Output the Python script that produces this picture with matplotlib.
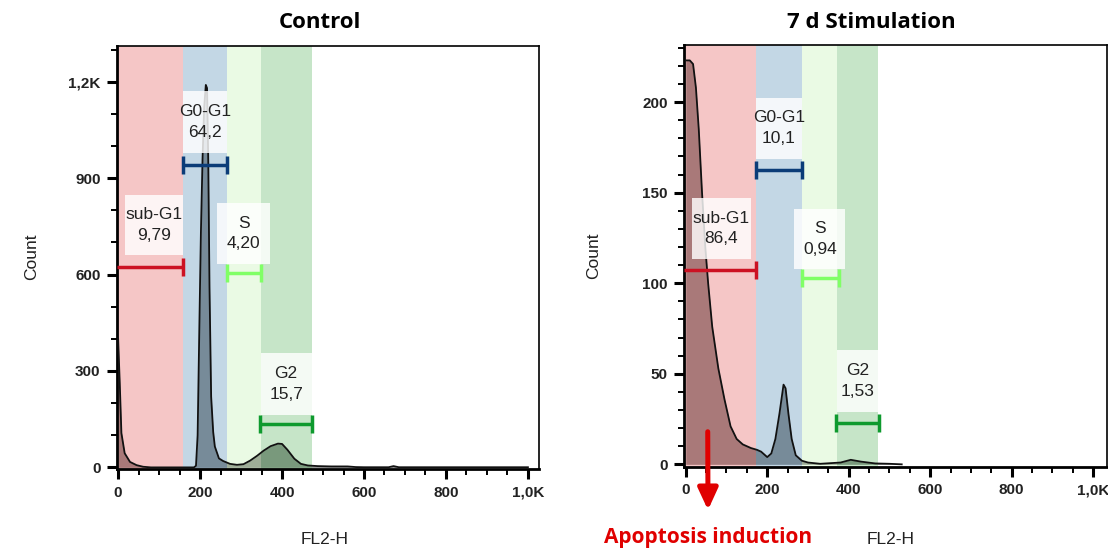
import numpy as np
import matplotlib.pyplot as plt
from matplotlib.ticker import MultipleLocator, FixedLocator

# histogram outlines (FL2-H, count)
ctrl_x = [0, 4, 8, 16, 29, 45, 61, 80, 185, 190, 194, 198, 202, 206, 210, 214, 217,
          220, 223, 227, 232, 236, 246, 256, 273, 290, 306, 322, 339, 355, 372, 390,
          400, 413, 430, 446, 463, 487, 520, 560, 580, 600, 660, 672, 685, 1000]
ctrl_y = [401, 262, 107, 44, 17, 7, 2, 0, 0, 5, 100, 420, 730, 960, 1120, 1190, 1180,
          950, 560, 220, 110, 65, 28, 20, 11, 8, 10, 21, 36, 52, 66, 74,
          73, 55, 27, 11, 6, 4, 3, 3, 1, 0.5, 0.5, 4, 0.5, 0.5]

stim_x = [0, 10, 18, 25, 32, 40, 48, 55, 65, 80, 95, 110, 125, 140, 160, 175, 185,
          200, 210, 220, 230, 240, 245, 252, 260, 270, 285, 300, 330, 380, 405, 430,
          465, 500, 530]
stim_y = [223, 223, 221, 208, 185, 150, 120, 100, 76, 53, 36, 21, 14, 11, 9, 8, 7,
          4, 6, 14, 28, 44, 42, 28, 14, 5, 2, 1, 0.3, 1, 2.5, 1.5,
          0.5, 0.3, 0]

gate_names = ["sub-G1", "G0-G1", "S", "G2"]
ctrl_pct = ["9,79", "64,2", "4,20", "15,7"]
stim_pct = ["86,4", "10,1", "0,94", "1,53"]

# gate boundaries on FL2-H
ctrl_edges = [159, 266, 348, 472]
stim_edges = [172, 286, 371, 473]

band_cols = ["#e55c5c", "#548db7", "#c5f1b2", "#5cb762"]
bar_cols = ["#cc1122", "#0b3c78", "#80ff66", "#0e9a2e"]

W, H = 1108, 552
fig = plt.figure(figsize=(W / 100, H / 100), dpi=100)

def px(x0, y0, x1, y1):
    return [x0 / W, 1 - y1 / H, (x1 - x0) / W, (y1 - y0) / H]

TICKFONT = dict(family="Liberation Sans", size=11, weight="bold", color="#222222")


def panel(rect, xlim, xs, ys, edges, pct, ylim, ymaj, ymin, ylabels, gates, boxes):
    ax = fig.add_axes(rect)
    ax.set_xlim(*xlim)
    ax.set_ylim(*ylim)
    # histogram fill under the gate shading
    ax.fill_between(xs, ys, 0, color="#8a8a8a", lw=0, zorder=1)
    starts = [xlim[0]] + edges[:-1]
    for i in range(4):
        ax.axvspan(starts[i], edges[i], color=band_cols[i], alpha=0.35, lw=0, zorder=2)
    ax.plot(xs, ys, color="#111111", lw=1.3, zorder=3)
    # label boxes and gate bars
    for i in range(4):
        bx0, bx1, by0, by1 = boxes[i]
        ax.fill_between([bx0, bx1], by0, by1, color="white", alpha=0.82, lw=0, zorder=4)
        ax.text((bx0 + bx1) / 2, (by0 + by1) / 2, gate_names[i] + "\n" + pct[i],
                ha="center", va="center", fontsize=12.5, family="Liberation Sans",
                color="#222222", linespacing=1.45, zorder=5)
        gx0, gx1, gy = gates[i]
        ax.plot([gx0, gx1], [gy, gy], color=bar_cols[i], lw=2.5, zorder=6,
                solid_capstyle="butt")
        ends = [gx1] if i == 0 else [gx0, gx1]
        ax.plot(ends, [gy] * len(ends), ls="none", marker="|", ms=13, mew=2.5,
                color=bar_cols[i], zorder=6)

    ax.xaxis.set_major_locator(FixedLocator([0, 200, 400, 600, 800, 1000]))
    ax.set_xticklabels(["0", "200", "400", "600", "800", "1,0K"])
    ax.xaxis.set_minor_locator(MultipleLocator(50))
    ax.yaxis.set_major_locator(FixedLocator(ymaj))
    ax.set_yticklabels(ylabels)
    ax.yaxis.set_minor_locator(MultipleLocator(ymin))
    ax.tick_params(which="major", direction="out", length=7, width=2.2, pad=5)
    ax.tick_params(which="minor", direction="out", length=4, width=1.4)
    for lab in ax.get_xticklabels() + ax.get_yticklabels():
        lab.set(**TICKFONT)
    for s in ["left", "bottom"]:
        ax.spines[s].set_linewidth(2)
    for s in ["top", "right"]:
        ax.spines[s].set_linewidth(1.2)
    return ax


ctrl_gates = [(-2, 159, 624), (159, 266, 941), (266, 348, 604), (347, 472, 135)]
ctrl_boxes = [(16, 159, 661, 847), (159, 266, 977, 1172), (242, 370, 633, 824),
              (348, 472, 163, 355)]
ax1 = panel(px(117.3, 45.7, 539, 469), (-2, 1027), ctrl_x, ctrl_y, ctrl_edges, ctrl_pct,
            (-5, 1312), [0, 300, 600, 900, 1200], 100,
            ["0", "300", "600", "900", "1,2K"], ctrl_gates, ctrl_boxes)

stim_gates = [(-3.5, 172, 107.2), (172, 286, 162.3), (286, 376, 103.1), (369, 474, 22.6)]
stim_boxes = [(15, 160, 113.2, 147), (172, 286, 168.8, 202.4), (266, 392, 107.6, 141.2),
              (371, 473, 29, 63)]
ax2 = panel(px(684.3, 45, 1106.7, 466.7), (-3.5, 1033), stim_x, stim_y, stim_edges,
            stim_pct, (-1.3, 231.5), [0, 50, 100, 150, 200], 10,
            ["0", "50", "100", "150", "200"], stim_gates, stim_boxes)

# titles and axis labels
def ftext(x, y, s, **kw):
    fig.text(x / W, 1 - y / H, s, ha="center", va="center", **kw)

ftext(320, 22, "Control", family="Open Sans", weight="bold", size=16)
ftext(871, 22, "7 d Stimulation", family="Open Sans", weight="bold", size=16)
ftext(32, 257, "Count", family="Liberation Sans", size=12.5, rotation=90, color="#222222")
ftext(594, 256, "Count", family="Liberation Sans", size=12.5, rotation=90, color="#222222")
ftext(325, 539, "FL2-H", family="Liberation Sans", size=12.5, color="#222222")
ftext(891, 539, "FL2-H", family="Liberation Sans", size=12.5, color="#222222")
ftext(708, 537, "Apoptosis induction", family="Open Sans", weight="bold", size=15,
      color="#e00000")

ax2.annotate("", xy=(708 / W, 1 - 510 / H), xycoords="figure fraction",
             xytext=(54, 18), textcoords="data", annotation_clip=False,
             arrowprops=dict(arrowstyle="-|>,head_length=1.3,head_width=0.6",
                             mutation_scale=10, color="#e00000", lw=3.6,
                             shrinkA=0, shrinkB=0), zorder=10)

fig.savefig("out.png", dpi=100)
